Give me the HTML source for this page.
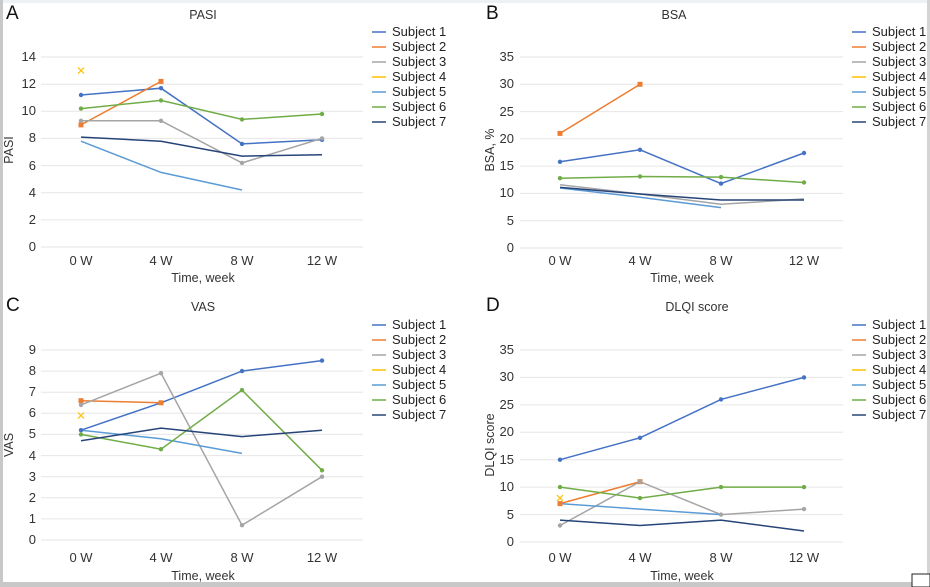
<!DOCTYPE html>
<html><head><meta charset="utf-8"><style>
html,body{margin:0;padding:0;background:#fff}
svg{display:block;font-family:"Liberation Sans",Arial,sans-serif}
</style></head><body>
<svg width="930" height="587" viewBox="0 0 930 587" xmlns="http://www.w3.org/2000/svg">
<rect x="0" y="0" width="930" height="587" fill="#fff"/>
<rect x="0" y="0" width="930" height="3" fill="#eef1f4"/>
<rect x="0" y="0" width="3" height="587" fill="#c8c8c8"/>
<rect x="927" y="0" width="3" height="587" fill="#d4d4d4"/>
<rect x="0" y="582" width="930" height="5" fill="#c8c8c8"/>
<rect x="912" y="574" width="18" height="13" fill="#fff" stroke="#222" stroke-width="1"/>

<g font-size="19" fill="#111">
<text x="6" y="19">A</text><text x="486" y="19">B</text>
<text x="6" y="311">C</text><text x="486" y="311">D</text>
</g>
<g font-size="12.5" fill="#333" text-anchor="middle">
<text x="203" y="19">PASI</text><text x="674" y="19">BSA</text>
<text x="203" y="311">VAS</text><text x="697" y="311">DLQI score</text>
<text x="203" y="282">Time, week</text><text x="682" y="282">Time, week</text>
<text x="203" y="580">Time, week</text><text x="682" y="580">Time, week</text>
<text transform="translate(13,150) rotate(-90)">PASI</text>
<text transform="translate(494,150) rotate(-90)">BSA, %</text>
<text transform="translate(13,445) rotate(-90)">VAS</text>
<text transform="translate(494,445) rotate(-90)">DLQI score</text>
</g>

<g stroke="#e6e6e6" stroke-width="1">
<path d="M41 247H363M41 219.9H363M41 192.7H363M41 165.6H363M41 138.4H363M41 111.3H363M41 84.2H363M41 57H363"/>
<path d="M520 248H843M520 220.7H843M520 193.4H843M520 166.1H843M520 138.8H843M520 111.6H843M520 84.3H843M520 57H843"/>
<path d="M41 540H363M41 518.9H363M41 497.8H363M41 476.7H363M41 455.6H363M41 434.4H363M41 413.3H363M41 392.2H363M41 371.1H363M41 350H363"/>
<path d="M520 542H843M520 514.6H843M520 487.1H843M520 459.7H843M520 432.3H843M520 404.9H843M520 377.4H843M520 350H843"/>
</g>

<g font-size="13" fill="#333" text-anchor="end">
<text x="36" y="251">0</text><text x="36" y="224">2</text><text x="36" y="197">4</text><text x="36" y="170">6</text><text x="36" y="142">8</text><text x="36" y="115">10</text><text x="36" y="88">12</text><text x="36" y="61">14</text>
<text x="514" y="252">0</text><text x="514" y="225">5</text><text x="514" y="197">10</text><text x="514" y="170">15</text><text x="514" y="143">20</text><text x="514" y="116">25</text><text x="514" y="88">30</text><text x="514" y="61">35</text>
<text x="36" y="544">0</text><text x="36" y="523">1</text><text x="36" y="502">2</text><text x="36" y="481">3</text><text x="36" y="460">4</text><text x="36" y="438">5</text><text x="36" y="417">6</text><text x="36" y="396">7</text><text x="36" y="375">8</text><text x="36" y="354">9</text>
<text x="514" y="546">0</text><text x="514" y="519">5</text><text x="514" y="491">10</text><text x="514" y="464">15</text><text x="514" y="436">20</text><text x="514" y="409">25</text><text x="514" y="381">30</text><text x="514" y="354">35</text>
</g>
<g font-size="13" fill="#333" text-anchor="middle">
<text x="81" y="265">0 W</text><text x="161" y="265">4 W</text><text x="242" y="265">8 W</text><text x="322" y="265">12 W</text>
<text x="560" y="265">0 W</text><text x="640" y="265">4 W</text><text x="721" y="265">8 W</text><text x="804" y="265">12 W</text>
<text x="81" y="562">0 W</text><text x="161" y="562">4 W</text><text x="242" y="562">8 W</text><text x="322" y="562">12 W</text>
<text x="560" y="562">0 W</text><text x="640" y="562">4 W</text><text x="721" y="562">8 W</text><text x="804" y="562">12 W</text>
</g>

<g font-size="13" fill="#222">
<g>
<path d="M372 32h14" stroke="#4472C4" stroke-width="1.5"/><text x="392" y="36">Subject 1</text>
<path d="M372 47h14" stroke="#ED7D31" stroke-width="1.5"/><text x="392" y="51">Subject 2</text>
<path d="M372 62h14" stroke="#A5A5A5" stroke-width="1.5"/><text x="392" y="66">Subject 3</text>
<path d="M372 77h14" stroke="#FFC000" stroke-width="1.5"/><text x="392" y="81">Subject 4</text>
<path d="M372 92h14" stroke="#5B9BD5" stroke-width="1.5"/><text x="392" y="96">Subject 5</text>
<path d="M372 107h14" stroke="#70AD47" stroke-width="1.5"/><text x="392" y="111">Subject 6</text>
<path d="M372 122h14" stroke="#264478" stroke-width="1.5"/><text x="392" y="126">Subject 7</text>
</g>
<g transform="translate(480,0)">
<path d="M372 32h14" stroke="#4472C4" stroke-width="1.5"/><text x="392" y="36">Subject 1</text>
<path d="M372 47h14" stroke="#ED7D31" stroke-width="1.5"/><text x="392" y="51">Subject 2</text>
<path d="M372 62h14" stroke="#A5A5A5" stroke-width="1.5"/><text x="392" y="66">Subject 3</text>
<path d="M372 77h14" stroke="#FFC000" stroke-width="1.5"/><text x="392" y="81">Subject 4</text>
<path d="M372 92h14" stroke="#5B9BD5" stroke-width="1.5"/><text x="392" y="96">Subject 5</text>
<path d="M372 107h14" stroke="#70AD47" stroke-width="1.5"/><text x="392" y="111">Subject 6</text>
<path d="M372 122h14" stroke="#264478" stroke-width="1.5"/><text x="392" y="126">Subject 7</text>
</g>
<g transform="translate(0,293)">
<path d="M372 32h14" stroke="#4472C4" stroke-width="1.5"/><text x="392" y="36">Subject 1</text>
<path d="M372 47h14" stroke="#ED7D31" stroke-width="1.5"/><text x="392" y="51">Subject 2</text>
<path d="M372 62h14" stroke="#A5A5A5" stroke-width="1.5"/><text x="392" y="66">Subject 3</text>
<path d="M372 77h14" stroke="#FFC000" stroke-width="1.5"/><text x="392" y="81">Subject 4</text>
<path d="M372 92h14" stroke="#5B9BD5" stroke-width="1.5"/><text x="392" y="96">Subject 5</text>
<path d="M372 107h14" stroke="#70AD47" stroke-width="1.5"/><text x="392" y="111">Subject 6</text>
<path d="M372 122h14" stroke="#264478" stroke-width="1.5"/><text x="392" y="126">Subject 7</text>
</g>
<g transform="translate(480,293)">
<path d="M372 32h14" stroke="#4472C4" stroke-width="1.5"/><text x="392" y="36">Subject 1</text>
<path d="M372 47h14" stroke="#ED7D31" stroke-width="1.5"/><text x="392" y="51">Subject 2</text>
<path d="M372 62h14" stroke="#A5A5A5" stroke-width="1.5"/><text x="392" y="66">Subject 3</text>
<path d="M372 77h14" stroke="#FFC000" stroke-width="1.5"/><text x="392" y="81">Subject 4</text>
<path d="M372 92h14" stroke="#5B9BD5" stroke-width="1.5"/><text x="392" y="96">Subject 5</text>
<path d="M372 107h14" stroke="#70AD47" stroke-width="1.5"/><text x="392" y="111">Subject 6</text>
<path d="M372 122h14" stroke="#264478" stroke-width="1.5"/><text x="392" y="126">Subject 7</text>
</g>
</g>

<g fill="none" stroke-width="1.5">
<polyline stroke="#4472C4" points="81,95 161,88.2 242,143.9 322,139.8"/>
<polyline stroke="#ED7D31" points="81,124.9 161,81.4"/>
<polyline stroke="#A5A5A5" points="81,120.8 161,120.8 242,162.9 322,138.4"/>
<polyline stroke="#5B9BD5" points="81,141.2 161,172.4 242,190"/>
<polyline stroke="#70AD47" points="81,108.6 161,100.4 242,119.4 322,114"/>
<polyline stroke="#264478" points="81,137.1 161,141.2 242,156.1 322,154.7"/>
<polyline stroke="#4472C4" points="560,161.8 640,149.8 721,183.6 804,153"/>
<polyline stroke="#ED7D31" points="560,133.4 640,84.3"/>
<polyline stroke="#A5A5A5" points="560,184.7 640,194 721,204.3 804,198.9"/>
<polyline stroke="#5B9BD5" points="560,188 640,197.2 721,207.6"/>
<polyline stroke="#70AD47" points="560,178.2 640,176.5 721,177.1 804,182.5"/>
<polyline stroke="#264478" points="560,187.4 640,194 721,200 804,200"/>
<polyline stroke="#4472C4" points="81,430.2 161,402.8 242,371.1 322,360.6"/>
<polyline stroke="#ED7D31" points="81,400.7 161,402.8"/>
<polyline stroke="#A5A5A5" points="81,404.9 161,373.2 242,525.2 322,476.7"/>
<polyline stroke="#5B9BD5" points="81,430.2 161,438.7 242,453.4"/>
<polyline stroke="#70AD47" points="81,434.4 161,449.2 242,390.1 322,470.3"/>
<polyline stroke="#264478" points="81,440.8 161,428.1 242,436.6 322,430.2"/>
<polyline stroke="#4472C4" points="560,459.7 640,437.8 721,399.4 804,377.4"/>
<polyline stroke="#ED7D31" points="560,503.6 640,481.7"/>
<polyline stroke="#A5A5A5" points="560,525.5 640,481.7 721,514.6 804,509.1"/>
<polyline stroke="#5B9BD5" points="560,503.6 640,509.1 721,514.6"/>
<polyline stroke="#70AD47" points="560,487.1 640,498.1 721,487.1 804,487.1"/>
<polyline stroke="#264478" points="560,520.1 640,525.5 721,520.1 804,531"/>
</g>

<g stroke="none">
<g fill="#4472C4">
<circle cx="81" cy="95" r="2.2"/><circle cx="161" cy="88.2" r="2.2"/><circle cx="242" cy="143.9" r="2.2"/><circle cx="322" cy="139.8" r="2.2"/>
<circle cx="560" cy="161.8" r="2.2"/><circle cx="640" cy="149.8" r="2.2"/><circle cx="721" cy="183.6" r="2.2"/><circle cx="804" cy="153" r="2.2"/>
<circle cx="81" cy="430.2" r="2.2"/><circle cx="161" cy="402.8" r="2.2"/><circle cx="242" cy="371.1" r="2.2"/><circle cx="322" cy="360.6" r="2.2"/>
<circle cx="560" cy="459.7" r="2.2"/><circle cx="640" cy="437.8" r="2.2"/><circle cx="721" cy="399.4" r="2.2"/><circle cx="804" cy="377.4" r="2.2"/>
</g>
<g fill="#ED7D31">
<rect x="78.5" y="122.4" width="5" height="5"/><rect x="158.5" y="78.9" width="5" height="5"/>
<rect x="557.5" y="130.9" width="5" height="5"/><rect x="637.5" y="81.8" width="5" height="5"/>
<rect x="78.5" y="398.2" width="5" height="5"/><rect x="158.5" y="400.3" width="5" height="5"/>
<rect x="557.5" y="501.1" width="5" height="5"/><rect x="637.5" y="479.2" width="5" height="5"/>
</g>
<g fill="#A5A5A5">
<circle cx="81" cy="120.8" r="2.2"/><circle cx="161" cy="120.8" r="2.2"/><circle cx="242" cy="162.9" r="2.2"/><circle cx="322" cy="138.4" r="2.2"/>
<circle cx="81" cy="404.9" r="2.2"/><circle cx="161" cy="373.2" r="2.2"/><circle cx="242" cy="525.2" r="2.2"/><circle cx="322" cy="476.7" r="2.2"/>
<circle cx="560" cy="525.5" r="2.2"/><circle cx="640" cy="481.7" r="2.2"/><circle cx="721" cy="514.6" r="2.2"/><circle cx="804" cy="509.1" r="2.2"/>
</g>
<g fill="#70AD47">
<circle cx="81" cy="108.6" r="2.2"/><circle cx="161" cy="100.4" r="2.2"/><circle cx="242" cy="119.4" r="2.2"/><circle cx="322" cy="114" r="2.2"/>
<circle cx="560" cy="178.2" r="2.2"/><circle cx="640" cy="176.5" r="2.2"/><circle cx="721" cy="177.1" r="2.2"/><circle cx="804" cy="182.5" r="2.2"/>
<circle cx="81" cy="434.4" r="2.2"/><circle cx="161" cy="449.2" r="2.2"/><circle cx="242" cy="390.1" r="2.2"/><circle cx="322" cy="470.3" r="2.2"/>
<circle cx="560" cy="487.1" r="2.2"/><circle cx="640" cy="498.1" r="2.2"/><circle cx="721" cy="487.1" r="2.2"/><circle cx="804" cy="487.1" r="2.2"/>
</g>
</g>
<g stroke="#FFC000" stroke-width="1.2" fill="none">
<path d="M78 67.6l6 6M84 67.6l-6 6"/>
<path d="M78 412.5l6 6M84 412.5l-6 6"/>
<path d="M557 495.1l6 6M563 495.1l-6 6"/>
</g>
</svg>
</body></html>
